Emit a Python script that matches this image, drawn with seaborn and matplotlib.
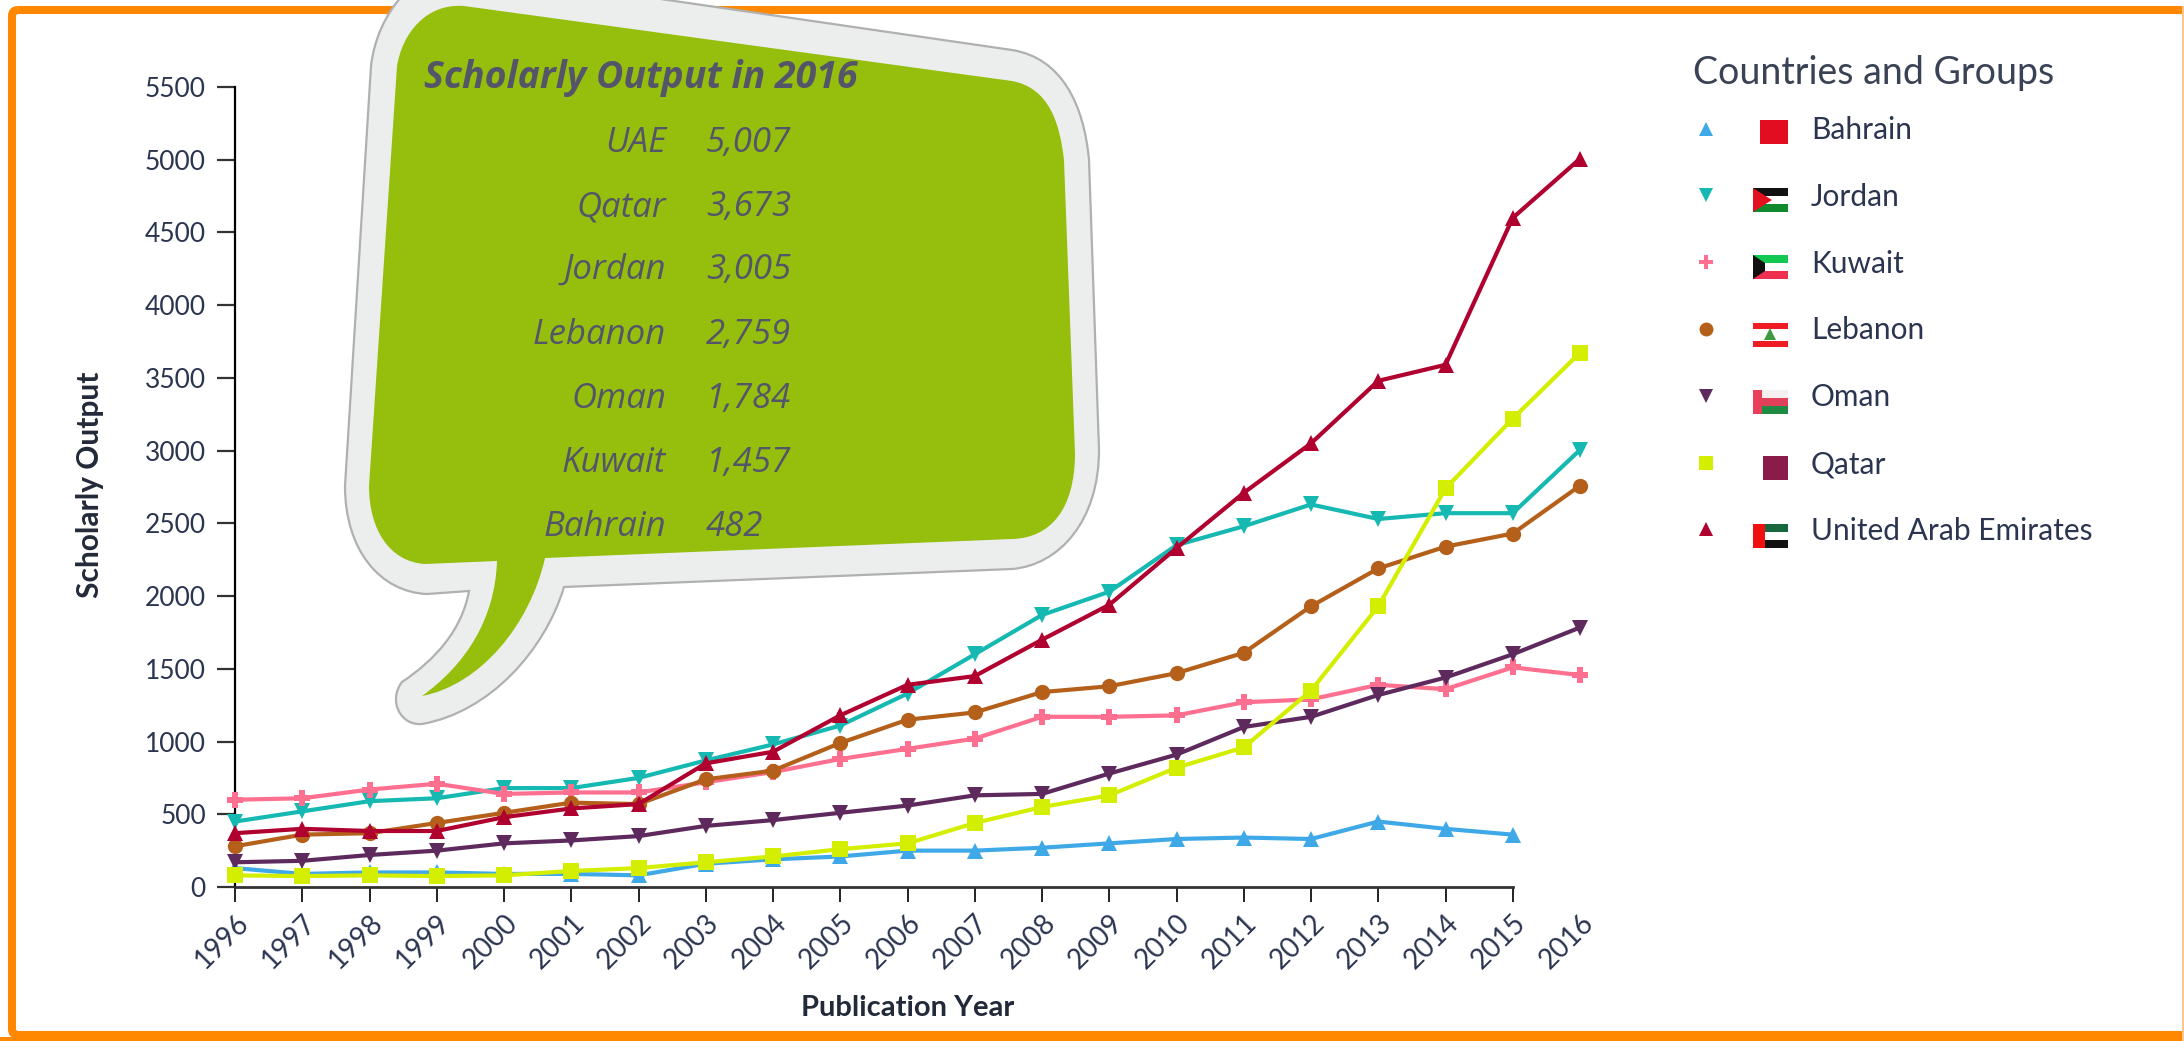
import numpy as np
import pandas as pd
import matplotlib
matplotlib.use("Agg")
import matplotlib.pyplot as plt
import seaborn as sns
from matplotlib.lines import Line2D
from matplotlib.path import Path
from matplotlib.patches import PathPatch, Rectangle, Polygon, FancyBboxPatch

years = list(range(1996, 2017))
bahrain = [130, 90, 100, 100, 90, 90, 80, 160, 190, 210, 250, 250, 270, 300, 330, 340, 330, 450, 400, 360, np.nan]
jordan = [450, 520, 590, 610, 680, 680, 750, 870, 980, 1110, 1330, 1600, 1870, 2030, 2350, 2480, 2630, 2530, 2570, 2570, 3005]
kuwait = [600, 610, 670, 710, 640, 650, 650, 720, 790, 880, 950, 1020, 1170, 1170, 1180, 1270, 1290, 1390, 1360, 1510, 1457]
lebanon = [280, 360, 370, 440, 510, 580, 570, 740, 800, 990, 1150, 1200, 1340, 1380, 1470, 1610, 1930, 2190, 2340, 2430, 2759]
oman = [170, 180, 220, 250, 300, 320, 350, 420, 460, 510, 560, 630, 640, 780, 910, 1100, 1170, 1320, 1440, 1600, 1784]
qatar = [80, 75, 80, 75, 80, 110, 130, 170, 210, 260, 300, 440, 550, 630, 820, 960, 1350, 1930, 2740, 3220, 3673]
uae = [370, 400, 385, 385, 480, 540, 570, 850, 930, 1180, 1390, 1450, 1700, 1940, 2330, 2710, 3050, 3480, 3590, 4600, 5007]

countries = ["Bahrain", "Jordan", "Kuwait", "Lebanon", "Oman", "Qatar", "United Arab Emirates"]
series = [bahrain, jordan, kuwait, lebanon, oman, qatar, uae]
colors = ["#3fa9e8", "#16b9b2", "#ff6f90", "#b5601a", "#5e2a5e", "#d4ee00", "#b0002f"]
markers = ["^", "v", "P", "o", "v", "s", "^"]
y_ticks = list(range(0, 5501, 500))

box_names = ["UAE", "Qatar", "Jordan", "Lebanon", "Oman", "Kuwait", "Bahrain"]
box_values = ["5,007", "3,673", "3,005", "2,759", "1,784", "1,457", "482"]

df = pd.DataFrame({"Year": years * len(countries),
                   "Country": [c for c in countries for _ in years],
                   "Output": [v for s in series for v in s]})

sns.set_theme(style="white")
plt.rcParams["font.family"] = ["Lato", "DejaVu Sans"]
W, H = 2184, 1041
fig = plt.figure(figsize=(W / 100, H / 100), dpi=100, facecolor="white")
L, R, T, B = 235, 1580, 87, 887
ax = fig.add_axes([L / W, 1 - B / H, (R - L) / W, (B - T) / H])

sns.lineplot(data=df, x="Year", y="Output", hue="Country", style="Country",
             hue_order=countries, style_order=countries,
             palette=dict(zip(countries, colors)),
             markers=dict(zip(countries, markers)),
             dashes=False, linewidth=3.0, markersize=11, markeredgewidth=0,
             legend=False, ax=ax, clip_on=False, zorder=3)

ax.set_xlim(1996, 2016)
ax.set_ylim(0, 5500)
ax.set_xticks(years)
ax.set_yticks(y_ticks)
ax.set_xticklabels(years, rotation=45, ha="right", rotation_mode="anchor", fontsize=20, color="#2b3550")
ax.set_yticklabels(y_ticks, fontsize=19, color="#2b3550")
ax.patch.set_alpha(0)
for s in ["top", "right"]:
    ax.spines[s].set_visible(False)
ax.spines["left"].set_color("black")
ax.spines["left"].set_linewidth(1.6)
ax.spines["bottom"].set_color("#333333")
ax.spines["bottom"].set_linewidth(2.0)
ax.spines["bottom"].set_bounds(1996, 2015)
ax.tick_params(axis="y", length=13, width=1.6, color="#333333", pad=8, left=True)
ax.tick_params(axis="x", length=11, width=1.4, color="#222222", pad=5, bottom=True)
ax.xaxis.get_major_ticks()[-1].tick1line.set_visible(False)
ax.set_xlabel("")
ax.set_ylabel("")

# overlay in reference pixel coordinates for frame, callout and flags
ov = fig.add_axes([0, 0, 1, 1], zorder=5)
ov.set_xlim(0, W)
ov.set_ylim(H, 0)
ov.axis("off")
ov.patch.set_alpha(0)

ov.text(908, 1008, "Publication Year", fontsize=21, fontweight="bold", color="#222a3a", ha="center", va="center")
ov.text(90, 485, "Scholarly Output", fontsize=21.5, fontweight="bold", color="#222a3a", ha="center", va="center", rotation=90)

# frame
ov.add_patch(FancyBboxPatch((12, 10), W + 40, 1029 - 4, boxstyle="round,pad=0,rounding_size=6",
                            fc="none", ec="#ff8800", lw=5.8, zorder=1, clip_on=True))
ov.add_patch(Rectangle((0, 1037), W, 4, fc="#ff8800", ec="none", zorder=1))
ov.add_patch(Rectangle((2182, 0), 2, H, fc="#ffc58a", ec="none", zorder=1))
ov.add_patch(Rectangle((2182, 0), 2, 6, fc="white", ec="none", zorder=1))


def blob(segments):
    verts, codes = [segments[0]], [Path.MOVETO]
    for seg in segments[1:]:
        if len(seg) == 2:
            verts.append(seg); codes.append(Path.LINETO)
        else:
            verts += [seg[:2], seg[2:4], seg[4:6]]; codes += [Path.CURVE4] * 3
    verts.append(segments[0]); codes.append(Path.CLOSEPOLY)
    return Path(verts, codes)


outer = blob([(402, -4), (640, -4), (1012, 50),
              (1062, 58, 1084, 105, 1089, 160), (1099, 450),
              (1099, 520, 1060, 565, 1012, 569), (564, 587),
              (545, 650, 490, 712, 422, 724),
              (400, 726, 388, 700, 402, 682),
              (435, 660, 462, 630, 469, 591), (427, 594),
              (380, 592, 345, 550, 345, 486), (371, 66),
              (374, 40, 385, 15, 402, -4)])
ov.add_patch(PathPatch(outer, fc="#eceeee", ec="#b0b0b0", lw=1.6, zorder=6))
inner = blob([(464, 6), (1012, 81),
              (1050, 88, 1060, 125, 1064, 160), (1075, 453),
              (1075, 510, 1050, 538, 1012, 539), (545, 558),
              (530, 625, 480, 685, 422, 696),
              (465, 665, 495, 620, 497, 561), (425, 564),
              (390, 562, 369, 530, 369, 486), (397, 66),
              (402, 35, 425, 3, 464, 6)])
ov.add_patch(PathPatch(inner, fc="#96bf0d", ec="none", zorder=7))

txt = "#55556a"
ov.text(424, 78, "Scholarly Output in 2016", family="Open Sans", style="italic", fontweight="bold",
        fontsize=27, color=txt, ha="left", va="center", zorder=8)
for nm, val, y in zip(box_names, box_values, [143, 207, 270, 335, 399, 463, 527]):
    ov.text(666, y, nm, family="Open Sans", style="italic", fontsize=25, color=txt, ha="right", va="center", zorder=8)
    ov.text(706, y, val, family="Open Sans", style="italic", fontsize=25, color=txt, ha="left", va="center", zorder=8)

# legend
handles = [Line2D([], [], ls="none", marker=m, color=c, markersize=10, markeredgewidth=0)
           for m, c in zip(markers, colors)]
leg = ax.legend(handles, countries, title="Countries and Groups", loc="upper left",
                bbox_to_anchor=(1693 / W, 1 - 55 / H), bbox_transform=fig.transFigure,
                frameon=False, fontsize=21.5, title_fontsize=27, labelcolor="#2b3550",
                labelspacing=1.30, handlelength=0.9, handletextpad=3.05, borderpad=0, borderaxespad=0)
leg._legend_box.align = "left"
leg._legend_box.sep = 18
leg.get_title().set_color("#3a4256")

rows = [128, 196, 263, 331, 398, 464, 532]
fx0, fx1 = 1753, 1788
fy = [r + 4 for r in rows]


def stripes(y, cols):
    h = 24 / len(cols)
    for i, c in enumerate(cols):
        ov.add_patch(Rectangle((fx0, y - 12 + i * h), fx1 - fx0, h, fc=c, ec="none", zorder=4))


ov.add_patch(Rectangle((fx0 + 7, fy[0] - 12), fx1 - fx0 - 7, 24, fc="#e30d22", ec="none", zorder=4))
stripes(fy[1], ["#111111", "#ffffff", "#118a2e"])
ov.add_patch(Polygon([(fx0, fy[1] - 12), (fx0 + 19, fy[1]), (fx0, fy[1] + 12)], fc="#e3101f", ec="none", zorder=4))
stripes(fy[2], ["#12c850", "#ffffff", "#f0304f"])
ov.add_patch(Polygon([(fx0, fy[2] - 12), (fx0 + 12, fy[2] - 4), (fx0 + 12, fy[2] + 4), (fx0, fy[2] + 12)], fc="#111111", ec="none", zorder=4))
stripes(fy[3], ["#f01c24", "#ffffff", "#ffffff", "#f01c24"])
ov.add_patch(Polygon([(fx0 + 17, fy[3] - 7), (fx0 + 23, fy[3] + 5), (fx0 + 11, fy[3] + 5)], fc="#3e9a3e", ec="none", zorder=4))
stripes(fy[4], ["#f4f0f0", "#e0405a", "#1e8a44"])
ov.add_patch(Rectangle((fx0, fy[4] - 12), 9, 24, fc="#e8405a", ec="none", zorder=4))
ov.add_patch(Rectangle((fx0 + 10, fy[5] - 12), fx1 - fx0 - 10, 24, fc="#8a1c4a", ec="none", zorder=4))
stripes(fy[6], ["#16663e", "#ffffff", "#111111"])
ov.add_patch(Rectangle((fx0, fy[6] - 12), 12, 24, fc="#f01010", ec="none", zorder=4))

fig.savefig("out.png", dpi=100, facecolor="white")
